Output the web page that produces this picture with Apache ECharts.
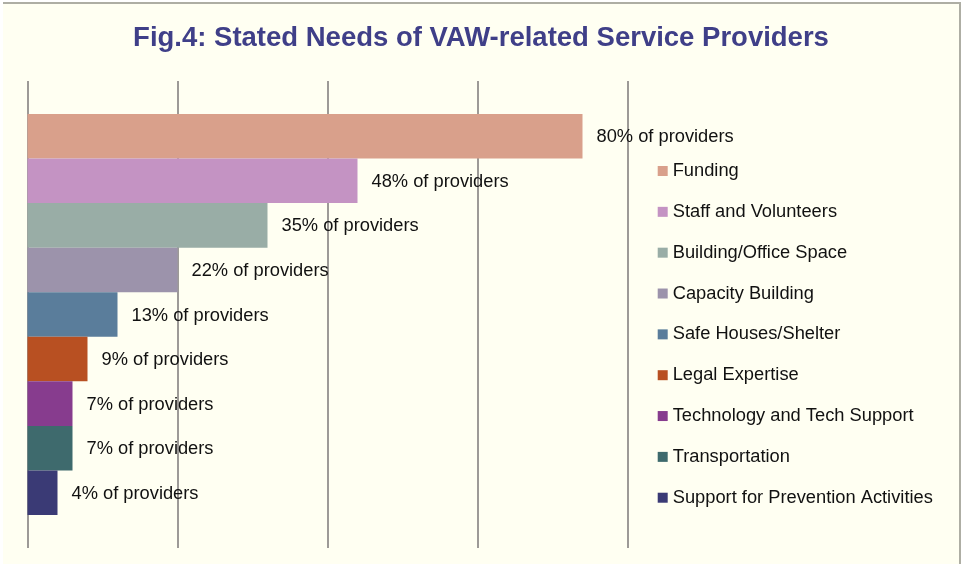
<!DOCTYPE html>
<html>
<head>
<meta charset="utf-8">
<title>Fig.4: Stated Needs of VAW-related Service Providers</title>
<script src="https://cdn.jsdelivr.net/npm/echarts@6/dist/echarts.min.js"></script>
<style>
  html, body { margin: 0; padding: 0; background: #ffffff; }
  #frame {
    position: absolute; left: 3px; top: 2px; width: 956px; height: 560px;
    background: #fffff2;
    border-top: 2px solid #aeaea4;
    border-right: 2px solid #aeaea4;
  }
  #chart { position: absolute; left: 0; top: 0; width: 962px; height: 573px; }
</style>
</head>
<body>
<div id="frame"></div>
<div id="chart"></div>
<script>
// needs, counted out of 46 providers
const needs = [
  'Funding',
  'Staff and Volunteers',
  'Building/Office Space',
  'Capacity Building',
  'Safe Houses/Shelter',
  'Legal Expertise',
  'Technology and Tech Support',
  'Transportation',
  'Support for Prevention Activities'
]
const counts = [37, 22, 16, 10, 6, 4, 3, 3, 2]
const percents = [80, 48, 35, 22, 13, 9, 7, 7, 4]
const colors = ['#d9a08b', '#c493c3', '#99ada6', '#9c93ab', '#5a7d9b', '#b85022', '#873c8e', '#3e6a6d', '#3a3a75']

const chart = echarts.init(document.getElementById('chart'))

const series = needs.map((name, i) => ({
  name: name,
  type: 'bar',
  data: [counts[i]],
  barWidth: 44.56,
  barGap: '0%',
  itemStyle: { color: colors[i] },
  label: {
    show: true,
    position: 'right',
    distance: 14,
    offset: [0, 1],
    fontSize: 18.3,
    fontFamily: 'Liberation Sans, Arial, sans-serif',
    color: '#111111',
    formatter: () => percents[i] + '% of providers'
  }
}))

const option = {
  backgroundColor: 'transparent',
  animation: false,
  title: {
    text: 'Fig.4: Stated Needs of VAW-related Service Providers',
    left: 'center',
    top: 19,
    textStyle: {
      fontSize: 27.5,
      fontWeight: 'bold',
      fontFamily: 'Liberation Sans, Arial, sans-serif',
      color: '#3f3f88'
    }
  },
  legend: {
    orient: 'vertical',
    left: 657.7,
    top: 162,
    padding: 0,
    itemWidth: 10,
    itemHeight: 10,
    itemGap: 22.84,
    icon: 'rect',
    data: needs,
    textStyle: {
      fontSize: 18.3,
      fontFamily: 'Liberation Sans, Arial, sans-serif',
      color: '#111111'
    }
  },
  grid: {
    left: 27.5,
    right: 334.5,
    top: 81,
    bottom: 25,
    containLabel: false
  },
  xAxis: {
    type: 'value',
    min: 0,
    max: 40,
    interval: 10,
    axisLine: { show: false },
    axisTick: { show: false },
    axisLabel: { show: false },
    splitLine: { show: true, lineStyle: { color: '#7d7878', width: 1.5 } }
  },
  yAxis: {
    type: 'category',
    data: ['Needs'],
    axisLine: { show: false },
    axisTick: { show: false },
    axisLabel: { show: false },
    splitLine: { show: false }
  },
  series: series
}

chart.setOption(option)
</script>
</body>
</html>
